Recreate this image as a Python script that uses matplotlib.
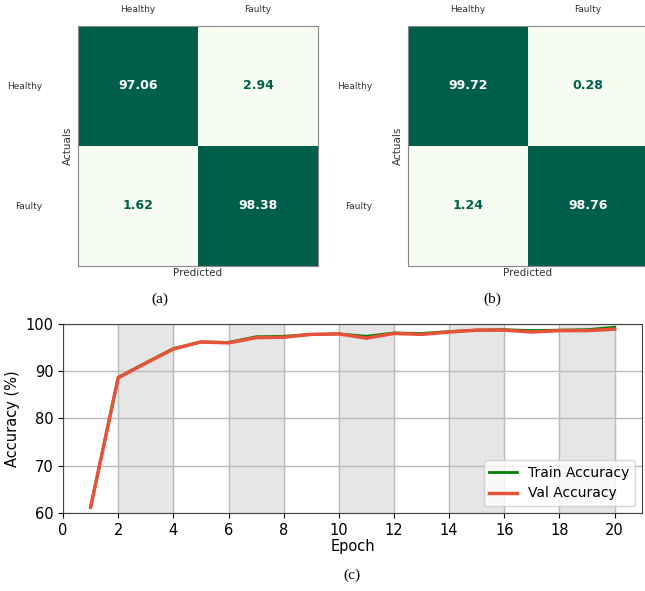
import numpy as np
import matplotlib
matplotlib.use("Agg")
import matplotlib.pyplot as plt
from matplotlib.colors import LinearSegmentedColormap

# confusion matrices (percent)
classes = ["Healthy", "Faulty"]
cm_a = [[97.06, 2.94], [1.62, 98.38]]
cm_b = [[99.72, 0.28], [1.24, 98.76]]

# training curves
epochs = list(range(1, 21))
train_acc = [61.2, 88.7, 91.8, 94.8, 96.2, 96.1, 97.3, 97.4, 97.8, 97.9,
             97.4, 98.1, 98.0, 98.4, 98.7, 98.8, 98.6, 98.7, 98.8, 99.3]
val_acc = [61.2, 88.6, 91.7, 94.7, 96.2, 96.0, 97.1, 97.2, 97.8, 97.9,
           97.0, 98.0, 97.8, 98.3, 98.7, 98.7, 98.3, 98.6, 98.6, 98.9]

dark = "#005f4b"
cmap = LinearSegmentedColormap.from_list("cm", ["#f7fcf2", dark])

fig = plt.figure(figsize=(6.45, 5.91), dpi=100)


def draw_cm(rect, cm):
    ax = fig.add_axes(rect)
    # low cells all come out in the lightest shade
    ax.imshow(cm, cmap=cmap, vmin=10, vmax=97, aspect="auto")
    for i in range(2):
        for j in range(2):
            v = cm[i][j]
            ax.text(j, i, f"{v:.2f}", ha="center", va="center",
                    fontsize=9, fontweight="bold",
                    color="white" if v > 50 else dark)
    ax.set_xticks([0, 1])
    ax.set_yticks([0, 1])
    ax.set_xticklabels(classes, fontsize=6.5, color="#333333")
    ax.set_yticklabels(classes, fontsize=6.5, color="#333333")
    ax.xaxis.tick_top()
    ax.tick_params(axis="x", length=0, pad=8.5)
    ax.tick_params(axis="y", length=0, pad=26)
    ax.set_xlabel("Predicted", fontsize=7.5, color="#333333")
    ax.set_ylabel("Actuals", fontsize=7.5, color="#333333")
    ax.xaxis.set_label_coords(0.5, -0.01)
    ax.yaxis.set_label_coords(-0.02, 0.5)
    for s in ax.spines.values():
        s.set_color("#888888")
        s.set_linewidth(0.8)
    return ax


draw_cm([0.121, 0.55, 0.372, 0.406], cm_a)
draw_cm([0.6326, 0.55, 0.372, 0.406], cm_b)

fig.text(160 / 645, 1 - 299 / 591, "(a)", ha="center", va="center",
         fontsize=11, family="Liberation Serif")
fig.text(492 / 645, 1 - 299 / 591, "(b)", ha="center", va="center",
         fontsize=11, family="Liberation Serif")

# accuracy curve
ax = fig.add_axes([0.0977, 0.132, 0.898, 0.3198])
for x0 in range(2, 20, 4):
    ax.axvspan(x0, x0 + 2, color="#e6e6e6", zorder=0)
ax.plot(epochs, train_acc, color="green", lw=2, label="Train Accuracy", zorder=3)
ax.plot(epochs, val_acc, color="#e8513a", lw=2.5, label="Val Accuracy", zorder=3)
ax.set_xlim(0, 21)
ax.set_ylim(60, 100)
ax.set_xticks(range(0, 21, 2))
ax.set_yticks(range(60, 101, 10))
ax.grid(True, color="#bbbbbb", lw=1, zorder=1)
ax.set_axisbelow(True)
ax.tick_params(labelsize=10.5)
ax.set_xlabel("Epoch", fontsize=10.5, labelpad=1)
ax.set_ylabel("Accuracy (%)", fontsize=10.5)
for s in ax.spines.values():
    s.set_color("#444444")
ax.legend(loc="lower right", fontsize=10, handlelength=2)

fig.text(352 / 645, 1 - 575 / 591, "(c)", ha="center", va="center",
         fontsize=11, family="Liberation Serif")

fig.savefig("out.png", dpi=100)
